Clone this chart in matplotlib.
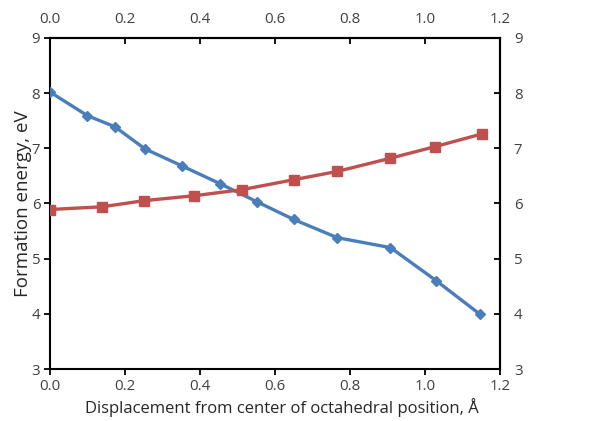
import matplotlib
matplotlib.use("Agg")
import matplotlib.pyplot as plt

blue_x = [0.0, 0.10, 0.173, 0.253, 0.352, 0.453, 0.552, 0.65, 0.766, 0.908, 1.03, 1.147]
blue_y = [8.02, 7.59, 7.39, 6.99, 6.68, 6.36, 6.03, 5.71, 5.38, 5.20, 4.60, 3.99]
red_x = [0.0, 0.14, 0.25, 0.385, 0.512, 0.65, 0.766, 0.908, 1.027, 1.152]
red_y = [5.89, 5.94, 6.05, 6.14, 6.25, 6.43, 6.58, 6.82, 7.03, 7.26]
xticks = [0.0, 0.2, 0.4, 0.6, 0.8, 1.0, 1.2]
yticks = [3, 4, 5, 6, 7, 8, 9]

plt.rcParams['font.family'] = ['Open Sans', 'DejaVu Sans']
fig = plt.figure(figsize=(6.11, 4.21), dpi=100)
ax = fig.add_axes([0.0818, 0.1235, 0.7365, 0.7865])

ax.plot(blue_x, blue_y, color='#4a7ebb', lw=2.4, marker='D', ms=5.5, zorder=3)
ax.plot(red_x, red_y, color='#c0504d', lw=2.4, marker='s', ms=7.5, zorder=3)

ax.set_xlim(0, 1.2)
ax.set_ylim(3, 9)
ax.set_xticks(xticks)
ax.set_xticklabels([f"{v:.1f}" for v in xticks])
ax.set_yticks(yticks)
ax.set_yticklabels([str(v) for v in yticks])
tc = '#404040'
ax.tick_params(axis='both', direction='out', length=4, width=1.3, labelsize=10.8, labelcolor=tc, pad=3)
for s in ax.spines.values():
    s.set_linewidth(1.5)

secx = ax.secondary_xaxis('top')
secx.set_xticks(xticks)
secx.set_xticklabels([f"{v:.1f}" for v in xticks])
secx.tick_params(direction='in', length=4, width=1.3, labelsize=10.8, labelcolor=tc, pad=8)
secx.spines['top'].set_linewidth(1.5)

secy = ax.secondary_yaxis('right')
secy.set_yticks(yticks)
secy.set_yticklabels([str(v) for v in yticks])
secy.tick_params(direction='in', length=4, width=1.3, labelsize=10.8, labelcolor=tc, pad=10)
secy.spines['right'].set_linewidth(1.5)

ax.set_xlabel('Displacement from center of octahedral position, Å', fontsize=12, color='#262626')
ax.xaxis.set_label_coords(0.515, -0.088)
ax.xaxis.label.set_va('top')
ax.set_ylabel('Formation energy, eV', fontsize=13.5, color='#262626', labelpad=-0.5)

fig.savefig('out.png', dpi=100)
